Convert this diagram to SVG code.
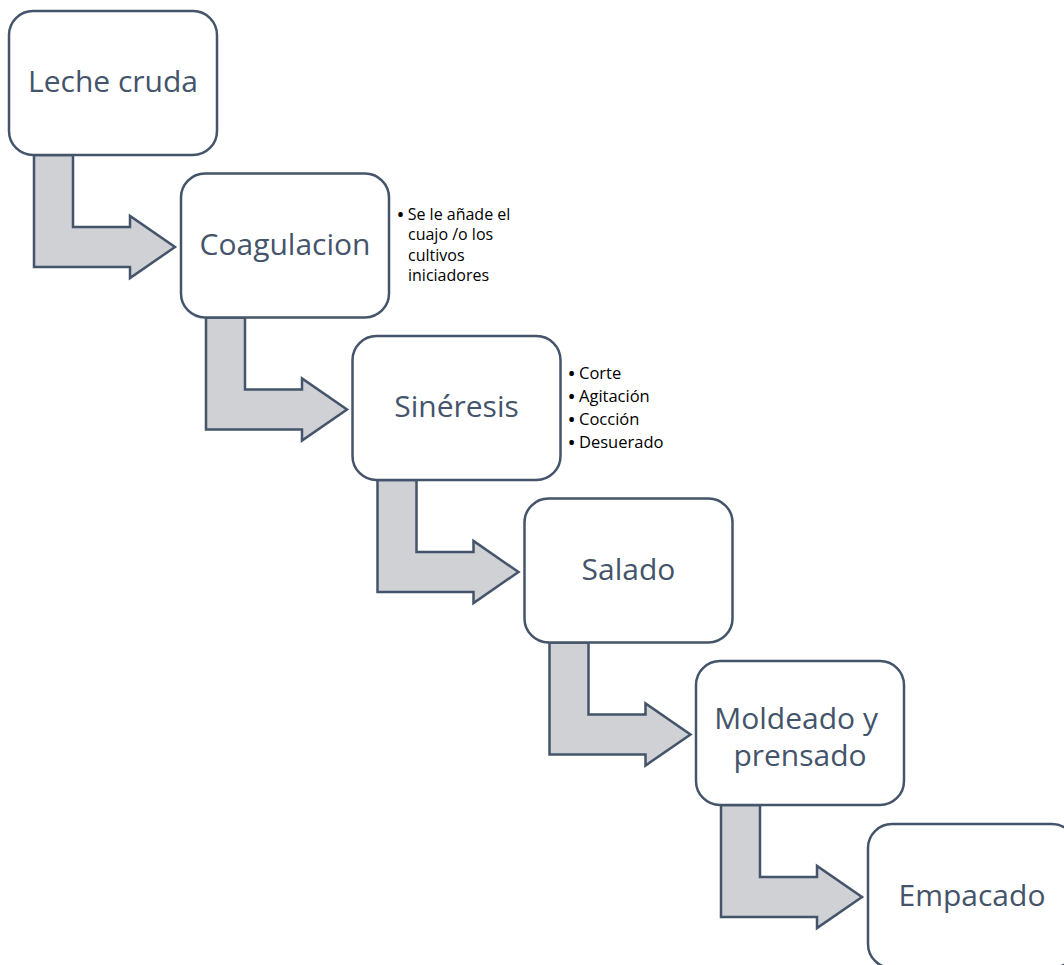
<svg xmlns="http://www.w3.org/2000/svg" width="1064" height="965" viewBox="0 0 1064 965">
  <style>
    .step { fill: #ffffff; stroke: #44546A; stroke-width: 2.5; }
    .flow { fill: #CFD1D5; stroke: #44546A; stroke-width: 2.5; stroke-linejoin: miter; }
    .label { font-family: "Open Sans", "Liberation Sans", sans-serif; font-size: 30px; fill: #44546A; text-anchor: middle; }
    .note { font-family: "Open Sans", "Liberation Sans", sans-serif; fill: #000000; }
    .dot { font-weight: bold; }
  </style>
  <rect width="1064" height="965" fill="#ffffff"/>

  <!-- bent arrows linking each step to the next -->
  <g id="connectors">
    <path class="flow" d="M34,155 V267 H130 V278 L175,247 L130,216 V227 H73 V155 Z"/>
    <path class="flow" d="M206,317.5 V429.5 H302 V440.5 L347,409.5 L302,378.5 V389.5 H245 V317.5 Z"/>
    <path class="flow" d="M377.5,480 V592 H473.5 V603 L518.5,572 L473.5,541 V552 H416.5 V480 Z"/>
    <path class="flow" d="M549.5,642.5 V754.5 H645.5 V765.5 L690.5,734.5 L645.5,703.5 V714.5 H588.5 V642.5 Z"/>
    <path class="flow" d="M721,805 V917 H817 V928 L862,897 L817,866 V877 H760 V805 Z"/>
  </g>

  <g id="leche-cruda">
    <rect class="step" x="9" y="11" width="208" height="144" rx="24"/>
    <text class="label" x="113" y="92">Leche cruda</text>
  </g>

  <g id="coagulacion">
    <rect class="step" x="181" y="173.5" width="208" height="144" rx="24"/>
    <text class="label" x="285" y="254.5">Coagulacion</text>
    <!-- one bullet, wrapped over four lines -->
    <text class="note" font-size="16">
      <tspan x="397.5" y="219.5"><tspan class="dot">•</tspan> Se le añade el</tspan>
      <tspan x="408" y="240">cuajo /o los</tspan>
      <tspan x="408" y="260.5">cultivos</tspan>
      <tspan x="408" y="281">iniciadores</tspan>
    </text>
  </g>

  <g id="sineresis">
    <rect class="step" x="352.5" y="336" width="208" height="144" rx="24"/>
    <text class="label" x="456.5" y="417">Sinéresis</text>
    <text class="note" font-size="16.5">
      <tspan x="568.5" y="379"><tspan class="dot">•</tspan> Corte</tspan>
      <tspan x="568.5" y="402"><tspan class="dot">•</tspan> Agitación</tspan>
      <tspan x="568.5" y="425"><tspan class="dot">•</tspan> Cocción</tspan>
      <tspan x="568.5" y="448"><tspan class="dot">•</tspan> Desuerado</tspan>
    </text>
  </g>

  <g id="salado">
    <rect class="step" x="524.5" y="498.5" width="208" height="144" rx="24"/>
    <text class="label" x="628.5" y="580">Salado</text>
  </g>

  <g id="moldeado-prensado">
    <rect class="step" x="696" y="661" width="208" height="144" rx="24"/>
    <text class="label">
      <tspan x="800" y="729">Moldeado y</tspan>
      <tspan x="800" y="766">prensado</tspan>
    </text>
  </g>

  <g id="empacado">
    <rect class="step" x="868" y="824" width="208" height="144" rx="24"/>
    <text class="label" x="972" y="906">Empacado</text>
  </g>
</svg>
